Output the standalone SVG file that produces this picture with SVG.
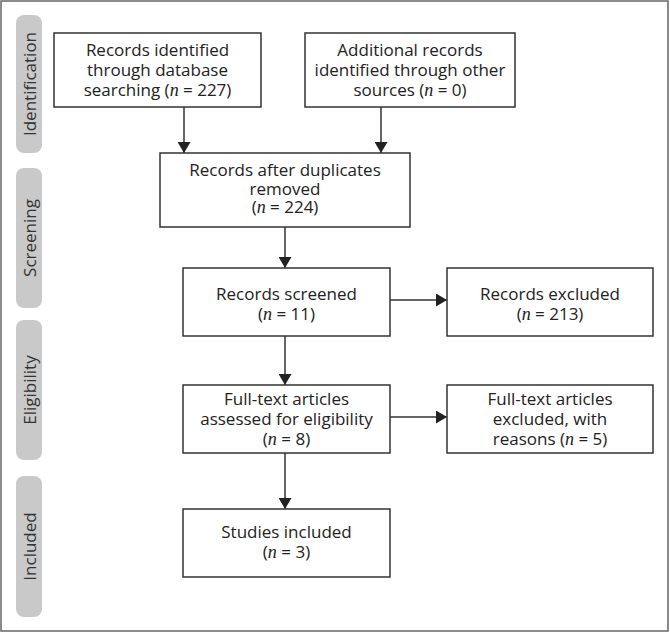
<svg xmlns="http://www.w3.org/2000/svg" width="670" height="632" viewBox="0 0 670 632">
<defs>
<style>
.frame{fill:#fff;stroke:#666;stroke-width:1.5}
.phase rect{fill:#c9c9c9}
.phase text{font-family:"Open Sans","Noto Sans","DejaVu Sans",sans-serif;font-size:17px;fill:#333;text-anchor:middle}
.node rect{fill:#fff;stroke:#333;stroke-width:1.5}
.node text{font-family:"Open Sans","Noto Sans","DejaVu Sans",sans-serif;font-size:17px;fill:#222;text-anchor:middle}
.n{font-family:"Liberation Serif","Times New Roman",serif;font-style:italic;font-size:18px}
#connectors line{stroke:#333;stroke-width:1.5;marker-end:url(#ah)}
</style>
<marker id="ah" markerUnits="userSpaceOnUse" markerWidth="13" markerHeight="13" refX="11" refY="6.5" orient="auto">
<path d="M0,0 L11,6.5 L0,13 z" fill="#222"/>
</marker>
</defs>
<rect class="frame" x="1" y="1" width="667" height="630"/>

<g id="phase-identification" class="phase"><rect x="16" y="15" width="26" height="138" rx="8"/><text transform="translate(35.5,84) rotate(-90)">Identification</text></g>
<g id="phase-screening" class="phase"><rect x="16" y="168" width="26" height="140" rx="8"/><text transform="translate(35.5,238) rotate(-90)">Screening</text></g>
<g id="phase-eligibility" class="phase"><rect x="16" y="320" width="26" height="140" rx="8"/><text transform="translate(35.5,390) rotate(-90)">Eligibility</text></g>
<g id="phase-included" class="phase"><rect x="16" y="476" width="26" height="141" rx="8"/><text transform="translate(35.5,546.5) rotate(-90)">Included</text></g>

<g id="connectors">
<line x1="184" y1="107" x2="184" y2="153"/>
<line x1="381" y1="107" x2="381" y2="153"/>
<line x1="285" y1="227" x2="285" y2="268"/>
<line x1="390" y1="300" x2="447" y2="300"/>
<line x1="285" y1="336" x2="285" y2="385"/>
<line x1="390" y1="417" x2="447" y2="417"/>
<line x1="285" y1="453" x2="285" y2="509"/>
</g>

<g id="n-database" class="node"><rect x="54" y="33" width="207" height="74"/>
<text x="157.5" y="56">Records identified</text>
<text x="157.5" y="76">through database</text>
<text x="157.5" y="96">searching (<tspan class="n">n</tspan> = 227)</text></g>

<g id="n-other" class="node"><rect x="305" y="33" width="210" height="74"/>
<text x="410" y="56">Additional records</text>
<text x="410" y="76">identified through other</text>
<text x="410" y="96">sources (<tspan class="n">n</tspan> = 0)</text></g>

<g id="n-dedup" class="node"><rect x="160" y="153" width="250" height="74"/>
<text x="285" y="176">Records after duplicates</text>
<text x="285" y="195">removed</text>
<text x="285" y="213">(<tspan class="n">n</tspan> = 224)</text></g>

<g id="n-screened" class="node"><rect x="183" y="268" width="207" height="68"/>
<text x="286.5" y="300">Records screened</text>
<text x="286.5" y="320">(<tspan class="n">n</tspan> = 11)</text></g>

<g id="n-excluded" class="node"><rect x="447" y="268" width="206" height="68"/>
<text x="550" y="300">Records excluded</text>
<text x="550" y="320">(<tspan class="n">n</tspan> = 213)</text></g>

<g id="n-fulltext" class="node"><rect x="183" y="385" width="207" height="68"/>
<text x="286.5" y="405">Full-text articles</text>
<text x="286.5" y="425">assessed for eligibility</text>
<text x="286.5" y="445">(<tspan class="n">n</tspan> = 8)</text></g>

<g id="n-ftexcluded" class="node"><rect x="447" y="385" width="206" height="68"/>
<text x="550" y="405">Full-text articles</text>
<text x="550" y="425">excluded, with</text>
<text x="550" y="445">reasons (<tspan class="n">n</tspan> = 5)</text></g>

<g id="n-included" class="node"><rect x="183" y="509" width="207" height="68"/>
<text x="286.5" y="538">Studies included</text>
<text x="286.5" y="558">(<tspan class="n">n</tspan> = 3)</text></g>
</svg>
